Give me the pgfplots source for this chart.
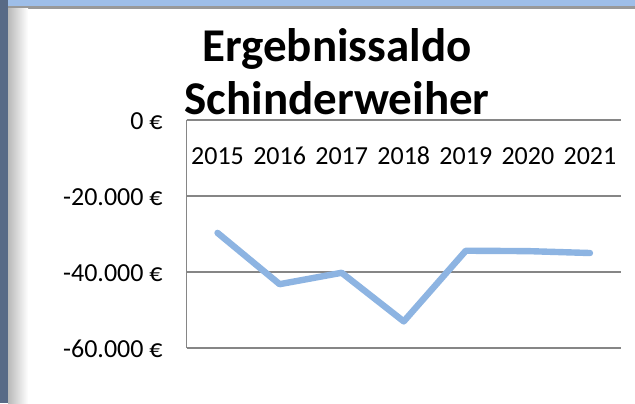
\documentclass[border=0pt]{standalone}
\usepackage{fontspec}
\setmainfont{Carlito}
\usepackage{pgfplots}
\pgfplotsset{compat=1.18}
\definecolor{linie}{RGB}{141,180,226}
\definecolor{gitter}{RGB}{134,134,134}
\definecolor{rahmenblau}{RGB}{158,190,232}
\definecolor{rahmengrau}{RGB}{88,106,134}

\begin{document}
\begin{tikzpicture}
% Rahmen und Titel in Pixelkoordinaten (1px = 0.5pt, y nach unten)
\begin{scope}[x=0.5pt,y=-0.5pt]
\useasboundingbox (0,0) rectangle (635,403);
\fill[white] (0,0) rectangle (635,403);
\fill[rahmenblau] (0,0) rectangle (635,6);
\fill[gray!80] (0,6) rectangle (635,8.5);
\fill[rahmengrau] (0,0) rectangle (8,403);
\shade[left color=gray!55, right color=white] (8,8.5) rectangle (28,403);
\node[font=\bfseries\fontsize{23.5}{28}\selectfont, anchor=base, inner sep=0pt] at (337,61.7) {Ergebnissaldo};
\node[font=\bfseries\fontsize{23.5}{28}\selectfont, anchor=base, inner sep=0pt] at (337,114) {Schinderweiher};
\end{scope}

\begin{axis}[
at={(93.25pt,-174pt)}, anchor=south west,
scale only axis, width=217.25pt, height=114pt,
xmin=0.5, xmax=7.5, ymin=-60000, ymax=0,
xtick={1,2,3,4,5,6,7},
xticklabels={2015,2016,2017,2018,2019,2020,2021},
ytick={-60000,-40000,-20000,0},
yticklabels={-60.000 €,-40.000 €,-20.000 €,0 €},
scaled y ticks=false,
axis x line*=top, axis y line*=left,
axis line style={draw=gitter, line width=0.75pt, -},
ymajorgrids, grid style={draw=gitter, line width=0.75pt},
major tick length=0pt,
xticklabel pos=right,
tick label style={font=\fontsize{13}{15}\selectfont},
xticklabel style={anchor=center, yshift=-18pt},
yticklabel style={anchor=east, xshift=-8.4pt, yshift=-0.6pt},
clip=false,
]
\addplot[linie, line width=3.2pt, line join=round, line cap=round]
coordinates {(1,-29700) (2,-43200) (3,-40200) (4,-53000) (5,-34400) (6,-34500) (7,-35000)};
\end{axis}
\end{tikzpicture}
\end{document}
